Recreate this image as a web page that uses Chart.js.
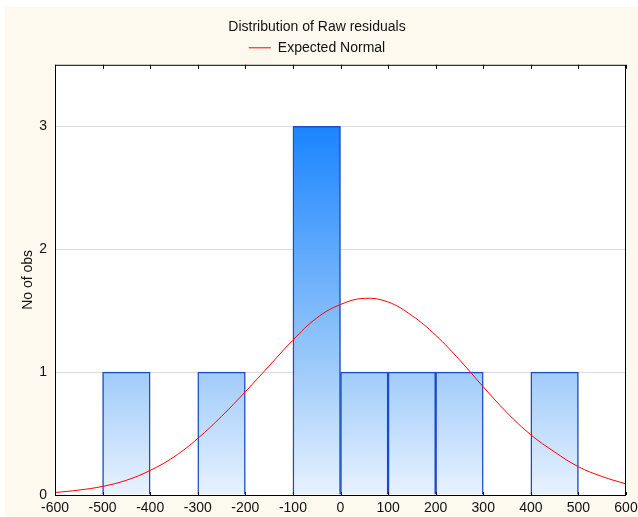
<!DOCTYPE html>
<html>
<head>
<meta charset="utf-8">
<script src="https://cdn.jsdelivr.net/npm/chart.js@4"></script>
<style>
  html, body { margin: 0; padding: 0; background: #ffffff; }
  #wrap { width: 638px; height: 517px; }
</style>
</head>
<body>
<div id="wrap"><canvas id="histChart" width="638" height="517"></canvas></div>
<script>
// histogram bins (centre of each 100-wide bin) and counts
const binCentres = [-450, -350, -250, -150, -50, 50, 150, 250, 350, 450];
const binCounts = [1, 0, 1, 0, 3, 1, 1, 1, 0, 1];

// expected normal curve
const curveX = [-600, -550, -500, -450, -400, -350, -300, -250, -200, -150, -100, -50, 0, 50, 100, 150, 200, 250, 300, 350, 400, 450, 500, 550, 600];
const curveY = [0.02, 0.04, 0.07, 0.12, 0.2, 0.31, 0.46, 0.64, 0.84, 1.05, 1.26, 1.44, 1.55, 1.6, 1.57, 1.46, 1.3, 1.1, 0.88, 0.67, 0.49, 0.35, 0.23, 0.15, 0.09];

const xTicks = [-600, -500, -400, -300, -200, -100, 0, 100, 200, 300, 400, 500, 600];
const yTicks = [0, 1, 2, 3];

const fontFamily = "'Liberation Sans', Arial, sans-serif";

// cream page + white plot box
const backdrop = {
    id: 'backdrop',
    beforeDraw(chart) {
        const c = chart.ctx;
        const a = chart.chartArea;
        c.save();
        c.fillStyle = '#fdf9ee';
        c.fillRect(5, 7, chart.width - 5, chart.height - 7);
        c.fillStyle = '#ffffff';
        c.fillRect(a.left, a.top, a.right - a.left, a.bottom - a.top);
        c.restore();
    },
    afterDatasetsDraw(chart) {
        const c = chart.ctx;
        const a = chart.chartArea;
        const x = chart.scales.x;
        c.save();
        c.strokeStyle = '#000000';
        c.lineWidth = 1;
        c.strokeRect(a.left + 0.5, a.top + 0.5, a.right - a.left - 1, a.bottom - a.top);
        // small tick marks on top and bottom edges
        c.beginPath();
        xTicks.forEach(v => {
            const px = Math.round(x.getPixelForValue(v)) + 0.5;
            c.moveTo(px, a.top);
            c.lineTo(px, a.top + 4);
            c.moveTo(px, a.bottom);
            c.lineTo(px, a.bottom - 3);
        });
        c.stroke();
        c.restore();
    }
};

const ctx = document.getElementById('histChart').getContext('2d');
const histChart = new Chart(ctx, {
    type: 'bar',
    data: {
        datasets: [
            {
                type: 'line',
                label: 'Expected Normal',
                data: curveX.map((v, i) => ({ x: v, y: curveY[i] })),
                borderColor: '#ff0000',
                borderWidth: 1,
                pointRadius: 0,
                tension: 0.4,
                fill: false,
                order: 0
            },
            {
                label: 'bars',
                data: binCentres.map((v, i) => ({ x: v, y: binCounts[i] })),
                backgroundColor: function (context) {
                    const chart = context.chart;
                    const a = chart.chartArea;
                    if (!a) return '#a0ccfa';
                    const y = chart.scales.y;
                    const g = chart.ctx.createLinearGradient(0, y.getPixelForValue(3), 0, y.getPixelForValue(0));
                    g.addColorStop(0, '#1a84ff');
                    g.addColorStop(0.667, '#a0ccfa');
                    g.addColorStop(1, '#e8f2ff');
                    return g;
                },
                borderColor: '#1a4cc4',
                borderWidth: 1.5,
                barPercentage: 1,
                categoryPercentage: 1,
                order: 1
            }
        ]
    },
    options: {
        responsive: false,
        animation: false,
        layout: { padding: { left: 8, right: 12, top: 0, bottom: 0 } },
        plugins: {
            title: {
                display: true,
                text: 'Distribution of Raw residuals',
                color: '#111111',
                font: { family: fontFamily, size: 14, weight: 'normal' },
                padding: { top: 19, bottom: 0 }
            },
            legend: {
                display: true,
                labels: {
                    filter: item => item.text === 'Expected Normal',
                    usePointStyle: true,
                    pointStyle: 'line',
                    pointStyleWidth: 22,
                    color: '#111111',
                    font: { family: fontFamily, size: 14 },
                    padding: 5
                }
            },
            tooltip: { enabled: false }
        },
        scales: {
            x: {
                type: 'linear',
                min: -600,
                max: 600,
                offset: false,
                afterBuildTicks: s => { s.ticks = xTicks.map(v => ({ value: v })); },
                afterFit: s => { s.height = 22; s.paddingLeft = 0; s.paddingRight = 0; },
                grid: { display: false, drawTicks: false, offset: false },
                border: { display: false },
                ticks: {
                    color: '#111111',
                    font: { family: fontFamily, size: 14 },
                    padding: 5,
                    maxRotation: 0,
                    autoSkip: false
                }
            },
            y: {
                min: 0,
                max: 3.5,
                afterBuildTicks: s => { s.ticks = yTicks.map(v => ({ value: v })); },
                afterFit: s => { s.width = 47; },
                grid: { color: '#dcdcdc', drawTicks: false },
                border: { display: false },
                ticks: {
                    color: '#111111',
                    font: { family: fontFamily, size: 14 },
                    padding: 8
                },
                title: {
                    display: true,
                    text: 'No of obs',
                    color: '#111111',
                    font: { family: fontFamily, size: 14 },
                    padding: { top: 12, bottom: 4 }
                }
            }
        }
    },
    plugins: [backdrop]
});
</script>
</body>
</html>
